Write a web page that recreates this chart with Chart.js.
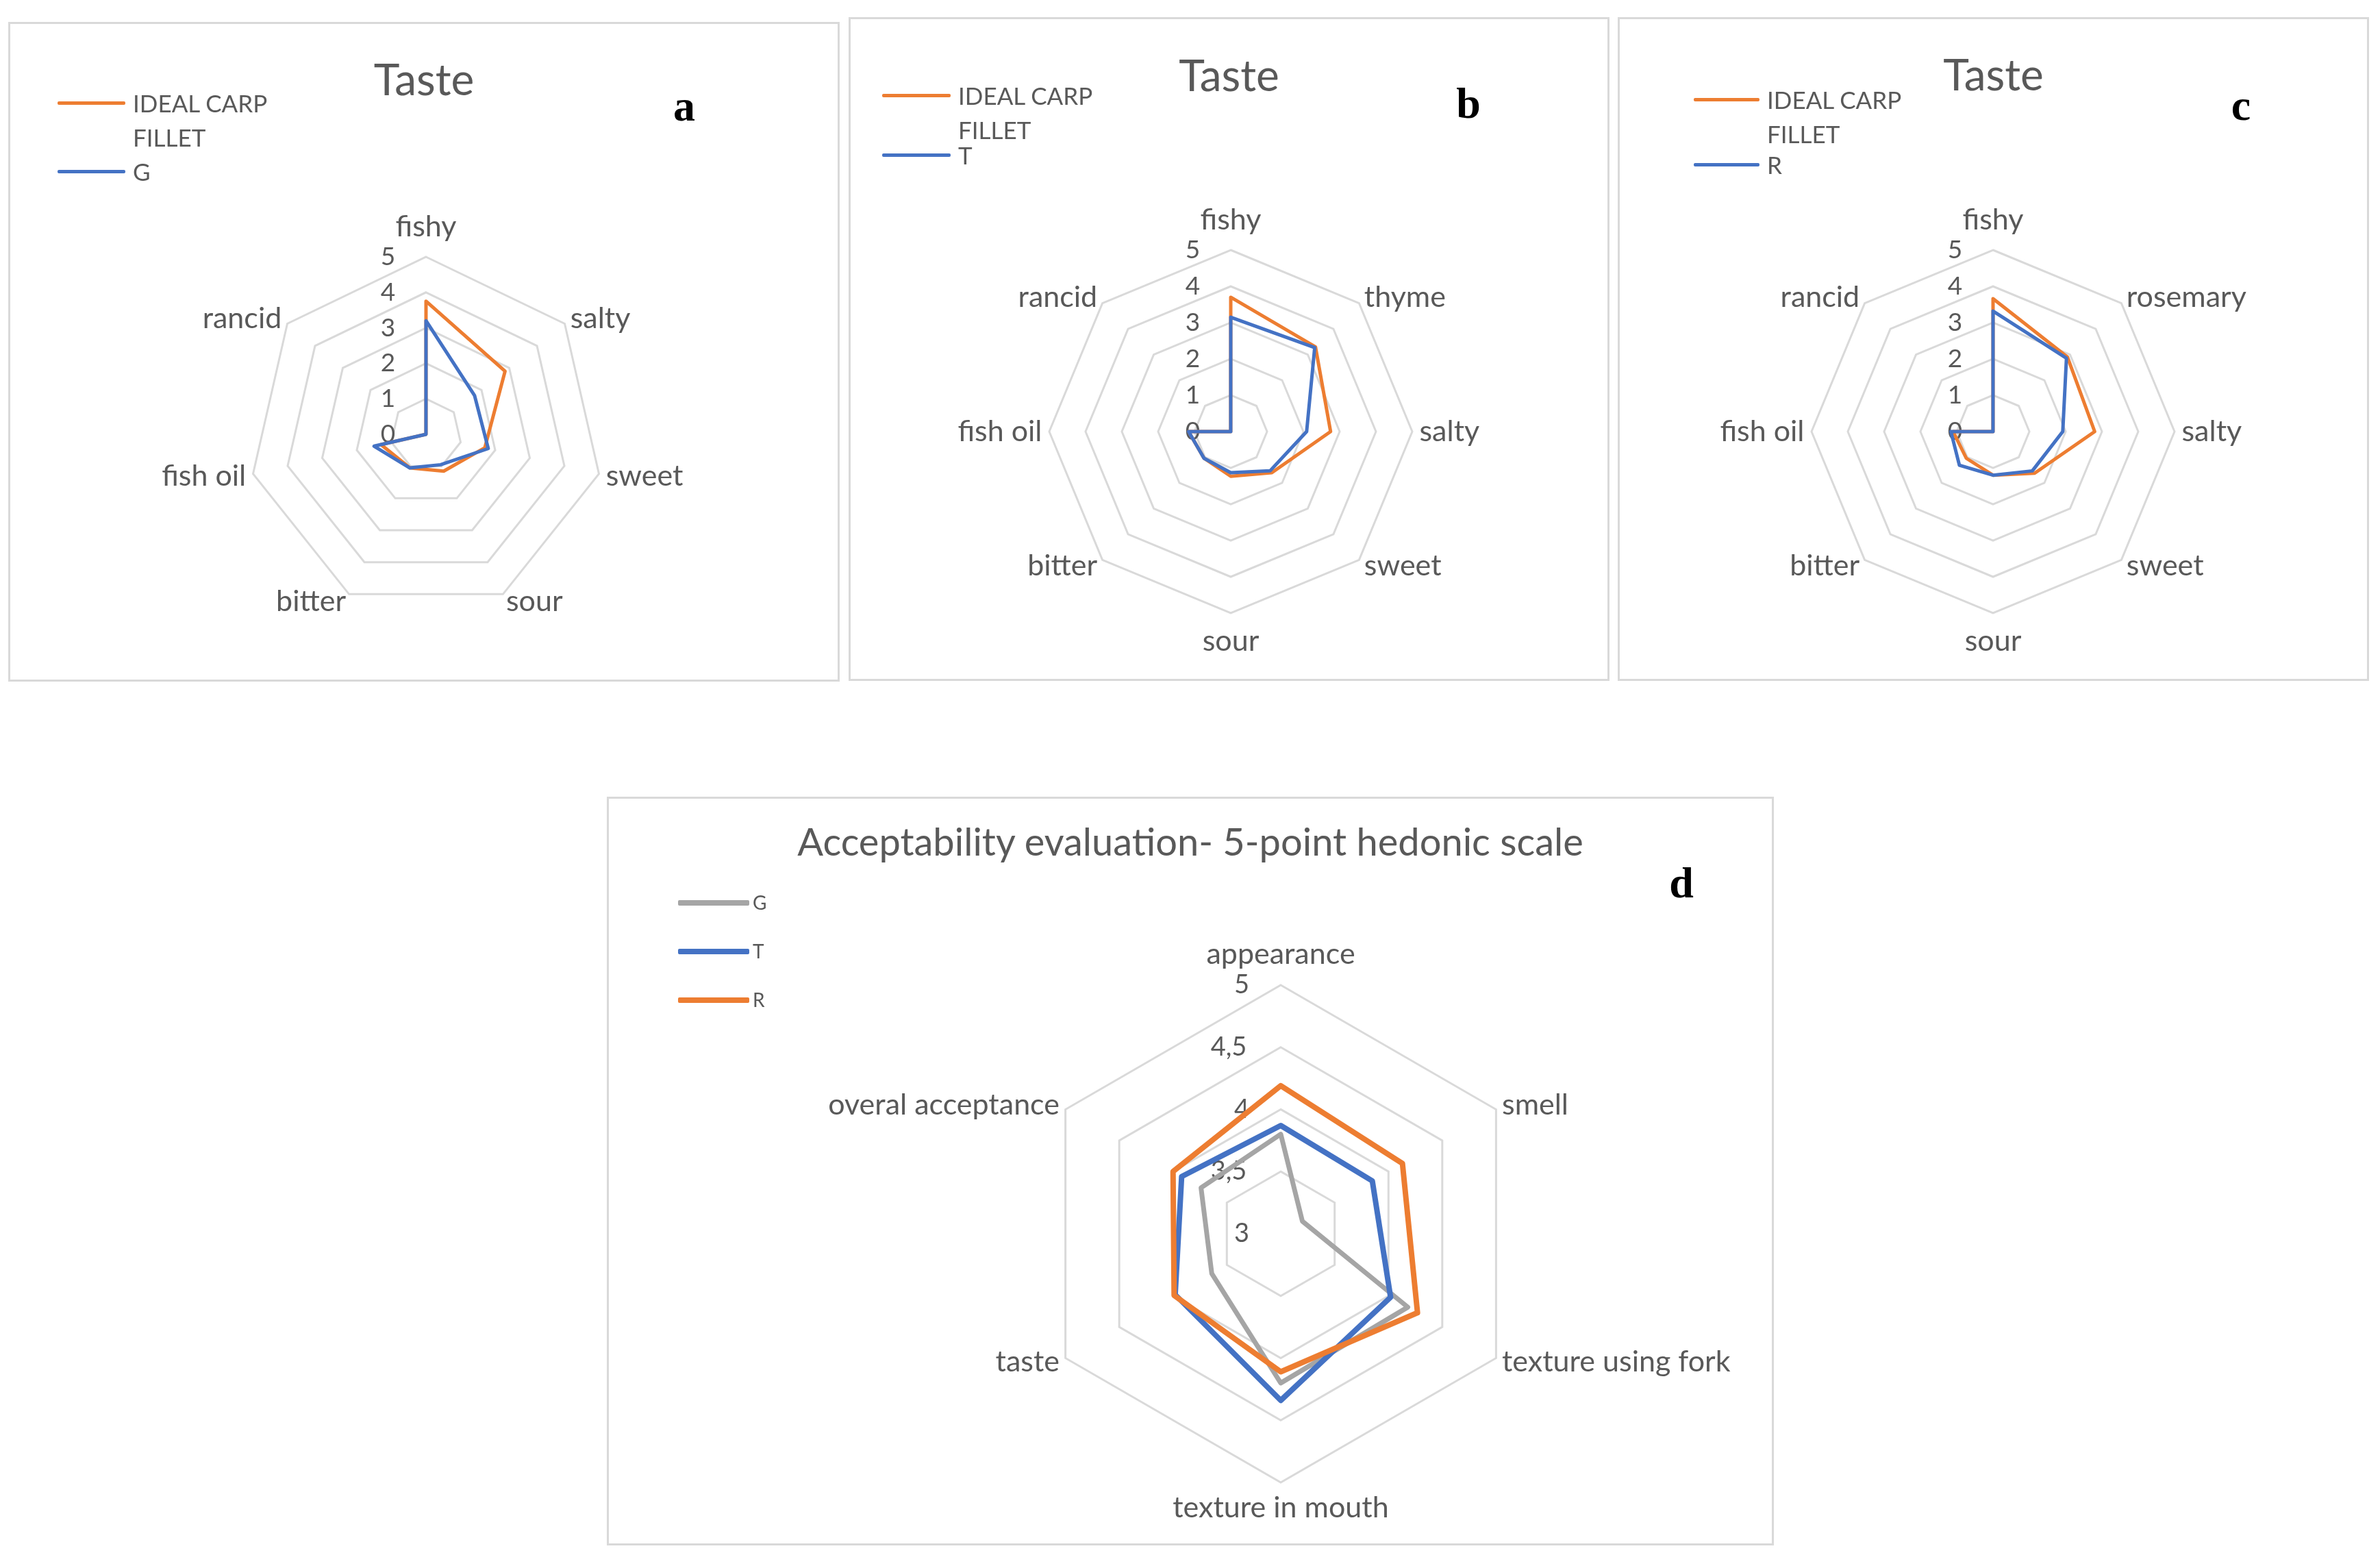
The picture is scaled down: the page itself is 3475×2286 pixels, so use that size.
<!DOCTYPE html>
<html>
<head>
<meta charset="utf-8">
<title>Taste profiles and acceptability of carp fillet</title>
<script src="https://cdn.jsdelivr.net/npm/chart.js@4.4.1/dist/chart.umd.min.js"></script>
<style>
  html, body { margin: 0; padding: 0; background: #fff; }
  body { width: 3475px; height: 2286px; position: relative; overflow: hidden; font-family: Lato, sans-serif; color: #595959; }
  .panel { position: absolute; box-sizing: border-box; border: 3px solid #d9d9d9; background: #fff; }
  .panel canvas { position: absolute; left: 0; top: 0; }
  .title { position: absolute; left: 0; right: 0; text-align: center; line-height: 1; white-space: nowrap; }
  .legend { position: absolute; }
  .legend-item { display: flex; align-items: flex-start; }
  .swatch { flex: none; border-radius: 2px; }
  .tag { position: absolute; font-family: 'Liberation Serif', serif; font-weight: bold; color: #000; line-height: 1; transform: translateX(-50%); }
</style>
</head>
<body>
<div class="panel" id="panel-a"><canvas id="chart-a"></canvas></div>
<div class="panel" id="panel-b"><canvas id="chart-b"></canvas></div>
<div class="panel" id="panel-c"><canvas id="chart-c"></canvas></div>
<div class="panel" id="panel-d"><canvas id="chart-d"></canvas></div>
<script>
// taste attributes per panel
const tasteAxesG = ['fishy', 'salty', 'sweet', 'sour', 'bitter', 'fish oil', 'rancid'];
const tasteAxesT = ['fishy', 'thyme', 'salty', 'sweet', 'sour', 'bitter', 'fish oil', 'rancid'];
const tasteAxesR = ['fishy', 'rosemary', 'salty', 'sweet', 'sour', 'bitter', 'fish oil', 'rancid'];

// a: ideal fillet vs G
const idealA = [3.75, 2.85, 1.7, 1.15, 1.05, 1.3, 0];
const tasteG = [3.2, 1.75, 1.8, 0.95, 1.05, 1.5, 0];
// b: ideal fillet vs T
const idealB = [3.7, 3.3, 2.75, 1.6, 1.23, 1.04, 1.16, 0];
const tasteT = [3.15, 3.27, 2.09, 1.53, 1.13, 1.04, 1.16, 0];
// c: ideal fillet vs R
const idealC = [3.66, 2.9, 2.8, 1.62, 1.2, 1.04, 1.1, 0];
const tasteR = [3.32, 2.86, 1.92, 1.53, 1.2, 1.31, 1.16, 0];

const tasteTicks = [0, 1, 2, 3, 4, 5];
const tasteTickLabels = ['0', '1', '2', '3', '4', '5'];

// d: hedonic scale
const hedonicAxes = ['appearance', 'smell', 'texture using fork', 'texture in mouth', 'taste', 'overal acceptance'];
const hedonicG = [3.8, 3.2, 4.18, 4.2, 3.64, 3.74];
const hedonicT = [3.87, 3.85, 4.02, 4.34, 3.98, 3.92];
const hedonicR = [4.19, 4.13, 4.27, 4.11, 3.99, 4.0];
const hedonicTicks = [3, 3.5, 4, 4.5, 5];
const hedonicTickLabels = ['3', '3,5', '4', '4,5', '5'];

const ORANGE = '#ED7D31';
const BLUE = '#4472C4';
const GREY = '#A5A5A5';
const TEXT = '#595959';

function line(label, data, color, width, order) {
    return {
        label: label,
        data: data,
        borderColor: color,
        backgroundColor: color,
        borderWidth: width,
        borderJoinStyle: 'round',
        pointRadius: 0,
        fill: false,
        order: order
    };
}

function radar(canvas, axes, datasets, ticks, tickLabels, look) {
    const min = ticks[0] - 0.001;
    return new Chart(canvas.getContext('2d'), {
        type: 'radar',
        data: { labels: axes, datasets: datasets },
        options: {
            responsive: false,
            animation: false,
            devicePixelRatio: 1,
            events: [],
            layout: { padding: { left: 0, right: 0, top: 0, bottom: 0 } },
            plugins: {
                legend: { display: false },
                title: { display: false },
                tooltip: { enabled: false }
            },
            scales: {
                r: {
                    min: min,
                    max: ticks[ticks.length - 1],
                    // Chart.js never prints the first tick, so a blank one sits at the centre
                    afterBuildTicks: (scale) => {
                        scale.ticks = [{ value: min }].concat(ticks.map(v => ({ value: v })));
                    },
                    angleLines: { display: false },
                    grid: {
                        // the two centre rings have no size, keep them from leaving a dot
                        color: (c) => c.index <= 1 ? 'rgba(0,0,0,0)' : '#d9d9d9',
                        lineWidth: 3
                    },
                    ticks: {
                        color: TEXT,
                        font: { family: 'Lato', size: look.tickSize },
                        showLabelBackdrop: false,
                        backdropPadding: 0,
                        // trailing spaces push the number left of the vertical axis
                        callback: (v, i) => i === 0 ? '' : tickLabels[i - 1] + '\u2002'.repeat(tickLabels[i - 1].length + 5)
                    },
                    pointLabels: {
                        color: TEXT,
                        // tiny line height keeps each label centred on its corner, like Excel
                        font: { family: 'Lato', size: look.labelSize, lineHeight: 0.05 },
                        padding: (c) => c.index === 0 ? look.topPad
                            : (2 * c.index === axes.length ? look.bottomPad : look.sidePad)
                    }
                }
            }
        }
    });
}

// nudge the layout padding until the radar sits where the figure has it
function placeRadar(chart, cx, cy, radius) {
    for (let i = 0; i < 8; i++) {
        const r = chart.scales.r;
        const dx = cx - r.xCenter;
        const dy = cy - r.yCenter;
        const dr = r.drawingArea - radius;
        if (Math.abs(dx) < 1 && Math.abs(dy) < 1 && Math.abs(dr) < 1) break;
        const p = chart.options.layout.padding;
        chart.options.layout.padding = {
            left: p.left + dx + dr,
            right: p.right - dx + dr,
            top: p.top + dy + dr,
            bottom: p.bottom - dy + dr
        };
        chart.update('none');
    }
}

function htmlLegend(chart, panel, opt) {
    const box = document.createElement('div');
    box.className = 'legend';
    box.style.left = opt.left + 'px';
    box.style.top = opt.top + 'px';
    box.style.fontSize = opt.size + 'px';
    box.style.lineHeight = opt.lineHeight + 'px';
    const items = chart.options.plugins.legend.labels.generateLabels(chart)
        .sort((p, q) => p.datasetIndex - q.datasetIndex);
    items.forEach((item, i) => {
        const row = document.createElement('div');
        row.className = 'legend-item';
        if (i > 0) row.style.marginTop = opt.itemGap + 'px';
        const sw = document.createElement('span');
        sw.className = 'swatch';
        sw.style.width = opt.swatch + 'px';
        sw.style.height = opt.thick + 'px';
        sw.style.marginTop = (opt.lineHeight - opt.thick) / 2 + 'px';
        sw.style.marginRight = opt.gap + 'px';
        sw.style.background = item.strokeStyle;
        const txt = document.createElement('span');
        txt.textContent = item.text;
        txt.style.maxWidth = opt.textWidth + 'px';
        row.append(sw, txt);
        box.appendChild(row);
    });
    panel.appendChild(box);
}

const tasteLook = { tickSize: 37, labelSize: 43, topPad: 24, bottomPad: 22, sidePad: -8 };
const hedonicLook = { tickSize: 38, labelSize: 43, topPad: 25, bottomPad: 17, sidePad: -9 };

const panels = [
    {
        key: 'a', box: [12, 32, 1214, 963], centre: [607, 599], radius: 259,
        title: 'Taste', titleSize: 64, titleTop: 48,
        legend: { left: 69, top: 90, size: 35, lineHeight: 50, swatch: 99, thick: 5, gap: 11, itemGap: 0, textWidth: 230 },
        tag: { x: 984, top: 88, size: 64 },
        chart: (cv) => radar(cv, tasteAxesG, [
            line('IDEAL CARP FILLET', idealA, ORANGE, 5, 1),
            line('G', tasteG, BLUE, 5, 0)
        ], tasteTicks, tasteTickLabels, tasteLook)
    },
    {
        key: 'b', box: [1239, 25, 1111, 969], centre: [555, 602], radius: 265,
        title: 'Taste', titleSize: 64, titleTop: 49,
        legend: { left: 46, top: 86, size: 35, lineHeight: 50, swatch: 100, thick: 5, gap: 11, itemGap: -13, textWidth: 230 },
        tag: { x: 902, top: 91, size: 64 },
        chart: (cv) => radar(cv, tasteAxesT, [
            line('IDEAL CARP FILLET', idealB, ORANGE, 5, 1),
            line('T', tasteT, BLUE, 5, 0)
        ], tasteTicks, tasteTickLabels, tasteLook)
    },
    {
        key: 'c', box: [2362, 25, 1097, 969], centre: [545, 602], radius: 265,
        title: 'Taste', titleSize: 64, titleTop: 48,
        legend: { left: 108, top: 92, size: 35, lineHeight: 50, swatch: 96, thick: 5, gap: 11, itemGap: -5, textWidth: 230 },
        tag: { x: 907, top: 94, size: 64 },
        chart: (cv) => radar(cv, tasteAxesR, [
            line('IDEAL CARP FILLET', idealC, ORANGE, 5, 1),
            line('R', tasteR, BLUE, 5, 0)
        ], tasteTicks, tasteTickLabels, tasteLook)
    },
    {
        key: 'd', box: [886, 1163, 1704, 1093], centre: [981, 635], radius: 363,
        title: 'Acceptability evaluation- 5-point hedonic scale', titleSize: 56, titleTop: 34,
        legend: { left: 101, top: 116, size: 28, lineHeight: 71, swatch: 104, thick: 8, gap: 5, itemGap: 0, textWidth: 100 },
        tag: { x: 1566, top: 91, size: 64 },
        chart: (cv) => radar(cv, hedonicAxes, [
            line('G', hedonicG, GREY, 7, 2),
            line('T', hedonicT, BLUE, 8, 1),
            line('R', hedonicR, ORANGE, 8, 0)
        ], hedonicTicks, hedonicTickLabels, hedonicLook)
    }
];

panels.forEach((p) => {
    const panel = document.getElementById('panel-' + p.key);
    const [x, y, w, h] = p.box;
    panel.style.left = x + 'px';
    panel.style.top = y + 'px';
    panel.style.width = w + 'px';
    panel.style.height = h + 'px';

    const canvas = document.getElementById('chart-' + p.key);
    canvas.width = w - 6;
    canvas.height = h - 6;

    const chart = p.chart(canvas);
    placeRadar(chart, p.centre[0], p.centre[1], p.radius);

    const title = document.createElement('div');
    title.className = 'title';
    title.textContent = p.title;
    title.style.top = p.titleTop + 'px';
    title.style.fontSize = p.titleSize + 'px';
    panel.appendChild(title);

    htmlLegend(chart, panel, p.legend);

    const tag = document.createElement('div');
    tag.className = 'tag';
    tag.textContent = p.key;
    tag.style.left = p.tag.x + 'px';
    tag.style.top = p.tag.top + 'px';
    tag.style.fontSize = p.tag.size + 'px';
    panel.appendChild(tag);
});
</script>
</body>
</html>
